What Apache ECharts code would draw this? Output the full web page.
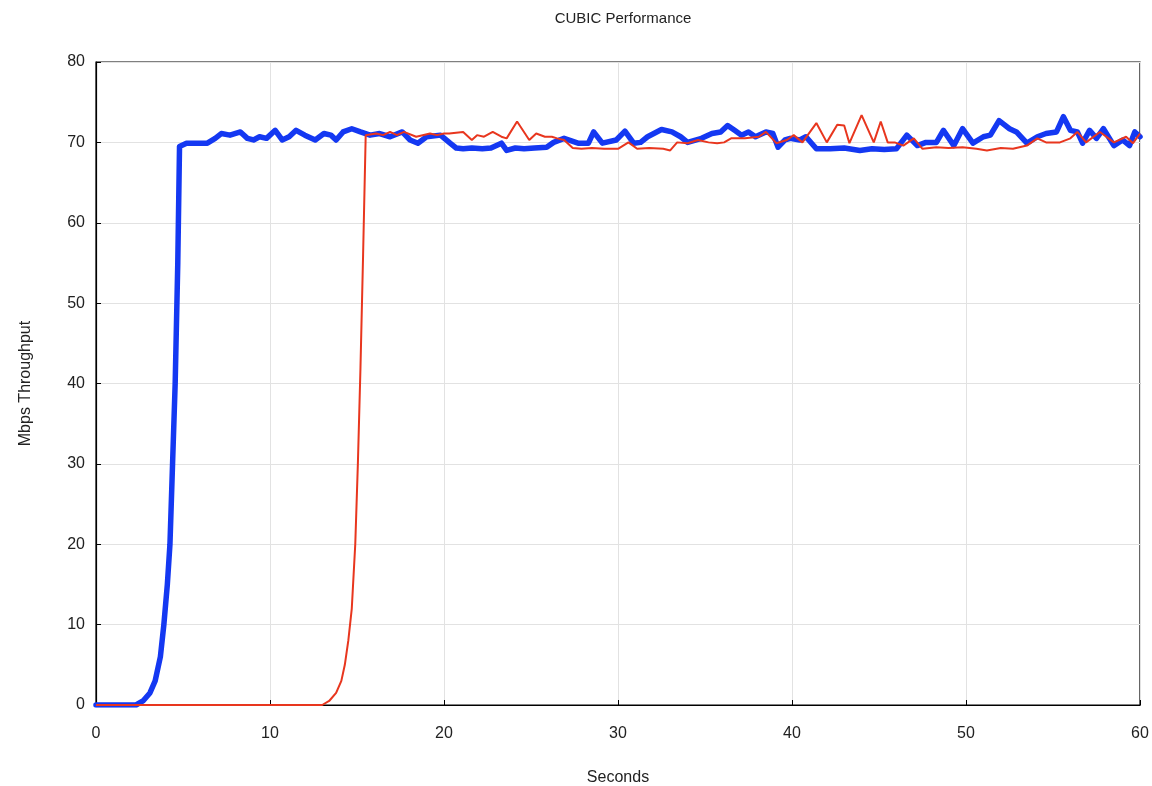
<!DOCTYPE html>
<html>
<head>
<meta charset="utf-8">
<style>
  html, body { margin: 0; padding: 0; background: #fff; }
  #chart { width: 1152px; height: 786px; }
</style>
<script src="https://cdn.jsdelivr.net/npm/echarts@6/dist/echarts.min.js"></script>
</head>
<body>
<div id="chart"></div>
<script>
// flow 1 (thick blue)
var blueT = [0, 2.3, 2.7, 3.1, 3.4, 3.7, 3.9, 4.1, 4.25, 4.4, 4.55, 4.7, 4.8, 5.2, 6.4, 6.85, 7.2, 7.7, 8.3, 8.7,
  9.05, 9.4, 9.8, 10.3, 10.7, 11.1, 11.5, 12.0, 12.6, 13.1, 13.5, 13.8, 14.2, 14.7, 15.2, 15.75, 16.3, 16.9, 17.6, 18.05,
  18.5, 19.0, 19.8, 20.35, 20.7, 21.1, 21.6, 22.2, 22.7, 23.3, 23.6, 24.1, 24.6, 25.2, 25.9, 26.3, 26.9, 27.7, 28.3, 28.6,
  29.1, 29.9, 30.4, 30.9, 31.3, 31.7, 32.5, 33.1, 33.6, 34.0, 34.8, 35.4, 35.9, 36.3, 36.7, 37.1, 37.5, 37.9, 38.5, 38.9,
  39.2, 39.6, 39.9, 40.45, 40.8, 41.4, 42.2, 43.0, 43.9, 44.6, 45.3, 46.0, 46.6, 47.2, 47.7, 48.3, 48.7, 49.3, 49.8, 50.4,
  51.0, 51.4, 51.9, 52.5, 52.9, 53.5, 54.1, 54.6, 55.2, 55.6, 56.0, 56.4, 56.7, 57.1, 57.5, 57.9, 58.5, 59.0, 59.4, 59.7, 60];
var blueV = [0, 0, 0.5, 1.5, 3, 6, 10, 15, 20, 30, 40, 55, 69.5, 69.9, 69.9, 70.5, 71.1, 70.9, 71.3, 70.5,
  70.3, 70.7, 70.5, 71.5, 70.3, 70.7, 71.5, 70.9, 70.3, 71.1, 70.9, 70.3, 71.3, 71.7, 71.3, 70.9, 71.1, 70.7, 71.3, 70.3,
  69.9, 70.7, 70.9, 69.9, 69.3, 69.2, 69.3, 69.2, 69.3, 69.9, 69.0, 69.3, 69.2, 69.3, 69.4, 70.0, 70.5, 69.9, 69.9, 71.3,
  69.9, 70.3, 71.4, 69.9, 70.0, 70.7, 71.6, 71.3, 70.7, 70.0, 70.5, 71.1, 71.3, 72.1, 71.5, 70.9, 71.3, 70.7, 71.3, 71.1,
  69.4, 70.3, 70.5, 70.3, 70.7, 69.2, 69.2, 69.3, 69.0, 69.2, 69.1, 69.2, 70.9, 69.6, 70.0, 70.0, 71.5, 69.6, 71.7, 69.9,
  70.7, 70.9, 72.7, 71.7, 71.3, 69.9, 70.7, 71.1, 71.3, 73.2, 71.5, 71.3, 69.9, 71.5, 70.5, 71.7, 69.6, 70.3, 69.6, 71.3, 70.7];

// flow 2 (thin red)
var redT = [0, 13.0, 13.4, 13.8, 14.1, 14.3, 14.5, 14.7, 14.9, 15.05, 15.2, 15.35, 15.5, 16.1, 16.5, 16.9, 17.3, 17.7, 18.4, 19.2,
  19.6, 20.0, 20.3, 21.1, 21.6, 21.9, 22.3, 22.8, 23.3, 23.6, 24.2, 24.9, 25.3, 25.8, 26.2, 26.5, 26.9, 27.4, 27.9, 28.5,
  29.2, 30.0, 30.6, 31.1, 31.8, 32.6, 33.0, 33.4, 34.0, 34.6, 35.2, 35.7, 36.1, 36.5, 37.3, 38.1, 38.5, 39.1, 39.7, 40.1,
  40.6, 41.4, 42.0, 42.6, 43.0, 43.3, 44.0, 44.7, 45.1, 45.5, 45.9, 46.4, 47.0, 47.5, 48.3, 49.0, 49.8, 50.6, 51.2, 52.0,
  52.7, 53.5, 54.1, 54.6, 55.4, 56.0, 56.4, 56.9, 57.7, 58.5, 59.2, 59.6, 60];
var redV = [0, 0, 0.5, 1.5, 3, 5, 8, 12, 20, 30, 42, 56, 70.9, 71.1, 70.9, 71.3, 70.9, 71.3, 70.7, 71.1,
  70.9, 71.1, 71.1, 71.3, 70.3, 70.9, 70.7, 71.3, 70.7, 70.5, 72.6, 70.3, 71.1, 70.7, 70.7, 70.5, 70.3, 69.3, 69.2, 69.3,
  69.2, 69.2, 70.0, 69.2, 69.3, 69.2, 69.0, 70.0, 69.9, 70.3, 70.0, 69.9, 70.0, 70.5, 70.5, 70.7, 71.3, 69.9, 70.3, 70.9,
  70.0, 72.4, 70.0, 72.2, 72.1, 69.9, 73.4, 70.0, 72.6, 70.0, 70.0, 69.6, 70.5, 69.2, 69.4, 69.3, 69.4, 69.2, 69.0, 69.3,
  69.2, 69.6, 70.5, 70.0, 70.0, 70.5, 71.3, 70.0, 71.3, 70.0, 70.7, 69.9, 71.1];

function pairs(ts, vs) {
  return ts.map(function (t, i) { return [t, vs[i]]; });
}

var myChart = echarts.init(document.getElementById('chart'));

var axisText = { color: '#222', fontSize: 16, fontFamily: 'Liberation Sans, Arial, sans-serif' };

var option = {
  animation: false,
  backgroundColor: '#fff',
  title: {
    text: 'CUBIC Performance',
    left: 618,
    top: 6,
    textAlign: 'center',
    textStyle: { color: '#222', fontSize: 15, fontWeight: 'normal', fontFamily: 'Liberation Sans, Arial, sans-serif' }
  },
  grid: {
    left: 96, right: 12, top: 62, bottom: 81,
    outerBoundsMode: 'none',
    show: true, borderColor: '#000', borderWidth: 1.2
  },
  xAxis: {
    type: 'value',
    min: 0, max: 60, interval: 10,
    name: 'Seconds',
    nameLocation: 'middle',
    nameGap: 65,
    nameTextStyle: axisText,
    axisLine: { show: true, onZero: false, lineStyle: { color: '#000', width: 1.2 } },
    axisTick: { show: true, inside: true, length: 5, lineStyle: { color: '#000' } },
    axisLabel: Object.assign({ margin: 21 }, axisText),
    splitLine: { show: true, lineStyle: { color: '#e2e2e2', width: 1 } }
  },
  yAxis: {
    type: 'value',
    min: 0, max: 80, interval: 10,
    name: 'Mbps Throughput',
    nameLocation: 'middle',
    nameGap: 62,
    nameTextStyle: axisText,
    axisLine: { show: true, lineStyle: { color: '#000', width: 1.2 } },
    axisTick: { show: true, inside: true, length: 5, lineStyle: { color: '#000' } },
    axisLabel: Object.assign({ margin: 11 }, axisText),
    splitLine: { show: true, lineStyle: { color: '#e2e2e2', width: 1 } }
  },
  series: [
    {
      name: 'flow1',
      type: 'line',
      data: pairs(blueT, blueV),
      showSymbol: false,
      lineStyle: { color: '#1438f2', width: 5.5, join: 'round', cap: 'round' },
      itemStyle: { color: '#1438f2' },
      z: 2
    },
    {
      name: 'flow2',
      type: 'line',
      data: pairs(redT, redV),
      showSymbol: false,
      lineStyle: { color: '#e8361e', width: 2 },
      itemStyle: { color: '#e8361e' },
      z: 3
    }
  ]
};

myChart.setOption(option);
window.addEventListener('resize', function () { myChart.resize(); });
</script>
</body>
</html>
